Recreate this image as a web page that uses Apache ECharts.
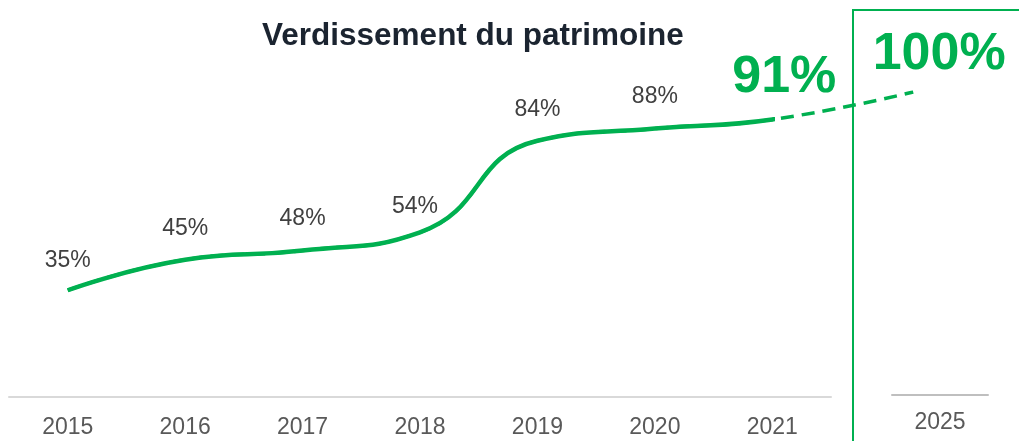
<!DOCTYPE html>
<html>
<head>
    <meta charset="UTF-8">
    <title>Verdissement du patrimoine</title>
    <script src="https://cdn.jsdelivr.net/npm/echarts@6/dist/echarts.min.js"></script>
    <style>
        *{margin:0;padding:0}
        html,body{width:100%;height:100%;background:#fff}
        #main{width:1019px;height:441px}
    </style>
</head>
<body>
<div id="main"></div>
<script type="text/javascript">
    // données
    var years = ['2015', '2016', '2017', '2018', '2019', '2020', '2021'];
    var values = [35, 45, 48, 54, 84, 88, 91];
    var targetYears = ['2025'];
    var targetValues = [100];

    var GREEN = '#00b050';
    var FONT = '"Liberation Sans", Arial, sans-serif';

    // mise en page
    var W = 1019, LEFT = 9, RIGHT = 188, TOP = 92, BOTTOM = 44;
    var slotPx = (W - LEFT - RIGHT) / years.length;
    var TARGET_SLOT = 7.2; // position horizontale de l'objectif, en cases
    var labelDist = [18, 20, 20, 14, 20, 20, 16];

    var last = values.length - 1;

    // même courbe pour le trait plein et le pointillé : le plein est coupé à 2021
    function curve(withLabels) {
        var pts = values.map(function (v, i) {
            var item = {value: [i, v], label: {show: withLabels, distance: labelDist[i]}};
            if (withLabels && i === last) {
                item.label.color = GREEN;
                item.label.fontSize = 52;
                item.label.fontWeight = 'bold';
                item.label.offset = [12, 0];
            } else if (i === 3) {
                item.label.offset = [-5, 0];
            }
            return item;
        });
        targetValues.forEach(function (v) {
            pts.push({
                value: [TARGET_SLOT, v],
                label: {
                    show: !withLabels, distance: 11, offset: [26, 0],
                    color: GREEN, fontSize: 52, fontWeight: 'bold'
                }
            });
        });
        return pts;
    }

    var myChart = echarts.init(document.getElementById('main'));

    var option = {
        animation: false,
        title: {
            text: 'Verdissement du patrimoine',
            left: 262, top: 20, padding: 0,
            textStyle: {fontFamily: FONT, fontSize: 31.5, fontWeight: 'bold', color: '#1b2430'}
        },
        grid: [
            {left: LEFT, right: RIGHT, top: TOP, bottom: BOTTOM},
            {left: 892, width: 96, top: TOP, bottom: BOTTOM},
            {left: LEFT, right: 0, top: TOP, bottom: BOTTOM},
            {left: LEFT, right: W - LEFT - (last + 0.5) * slotPx, top: TOP, bottom: BOTTOM}
        ],
        xAxis: [
            {
                type: 'category', gridIndex: 0, data: years,
                axisLine: {lineStyle: {color: '#d9d9d9', width: 2}},
                axisTick: {show: false},
                axisLabel: {color: '#595959', fontSize: 23, fontFamily: FONT, margin: 19}
            },
            {
                type: 'category', gridIndex: 1, data: targetYears, offset: -2,
                axisLine: {lineStyle: {color: '#bfbfbf', width: 2}},
                axisTick: {show: false},
                axisLabel: {color: '#595959', fontSize: 23, fontFamily: FONT, margin: 16}
            },
            {
                type: 'value', gridIndex: 2, show: false,
                min: -0.5, max: -0.5 + (W - LEFT) / slotPx
            },
            {
                type: 'value', gridIndex: 3, show: false,
                min: -0.5, max: last
            }
        ],
        yAxis: [
            {type: 'value', gridIndex: 0, min: 0, max: 100, show: false},
            {type: 'value', gridIndex: 1, min: 0, max: 100, show: false},
            {type: 'value', gridIndex: 2, min: 0, max: 100, show: false},
            {type: 'value', gridIndex: 3, min: 0, max: 100, show: false}
        ],
        graphic: [{
            type: 'rect',
            shape: {x: 853, y: 10, width: 300, height: 500},
            style: {fill: 'none', stroke: GREEN, lineWidth: 2},
            z: 1
        }],
        series: [
            {
                type: 'line',
                xAxisIndex: 2, yAxisIndex: 2,
                data: curve(false),
                smooth: 0.5,
                symbol: 'circle',
                symbolSize: 0.1,
                itemStyle: {color: GREEN},
                lineStyle: {color: GREEN, width: 3.5, type: [13, 8]},
                label: {
                    position: 'top', formatter: function (p) { return p.value[1] + '%'; },
                    fontFamily: FONT
                },
                z: 2
            },
            {
                type: 'line',
                xAxisIndex: 3, yAxisIndex: 3,
                data: curve(true),
                smooth: 0.5,
                clip: true,
                symbol: 'circle',
                symbolSize: 0.1,
                itemStyle: {color: GREEN},
                lineStyle: {color: GREEN, width: 4.5},
                label: {
                    position: 'top', formatter: function (p) { return p.value[1] + '%'; },
                    color: '#404040', fontSize: 23, fontFamily: FONT
                },
                z: 3
            }
        ]
    };

    myChart.setOption(option);
</script>
</body>
</html>
